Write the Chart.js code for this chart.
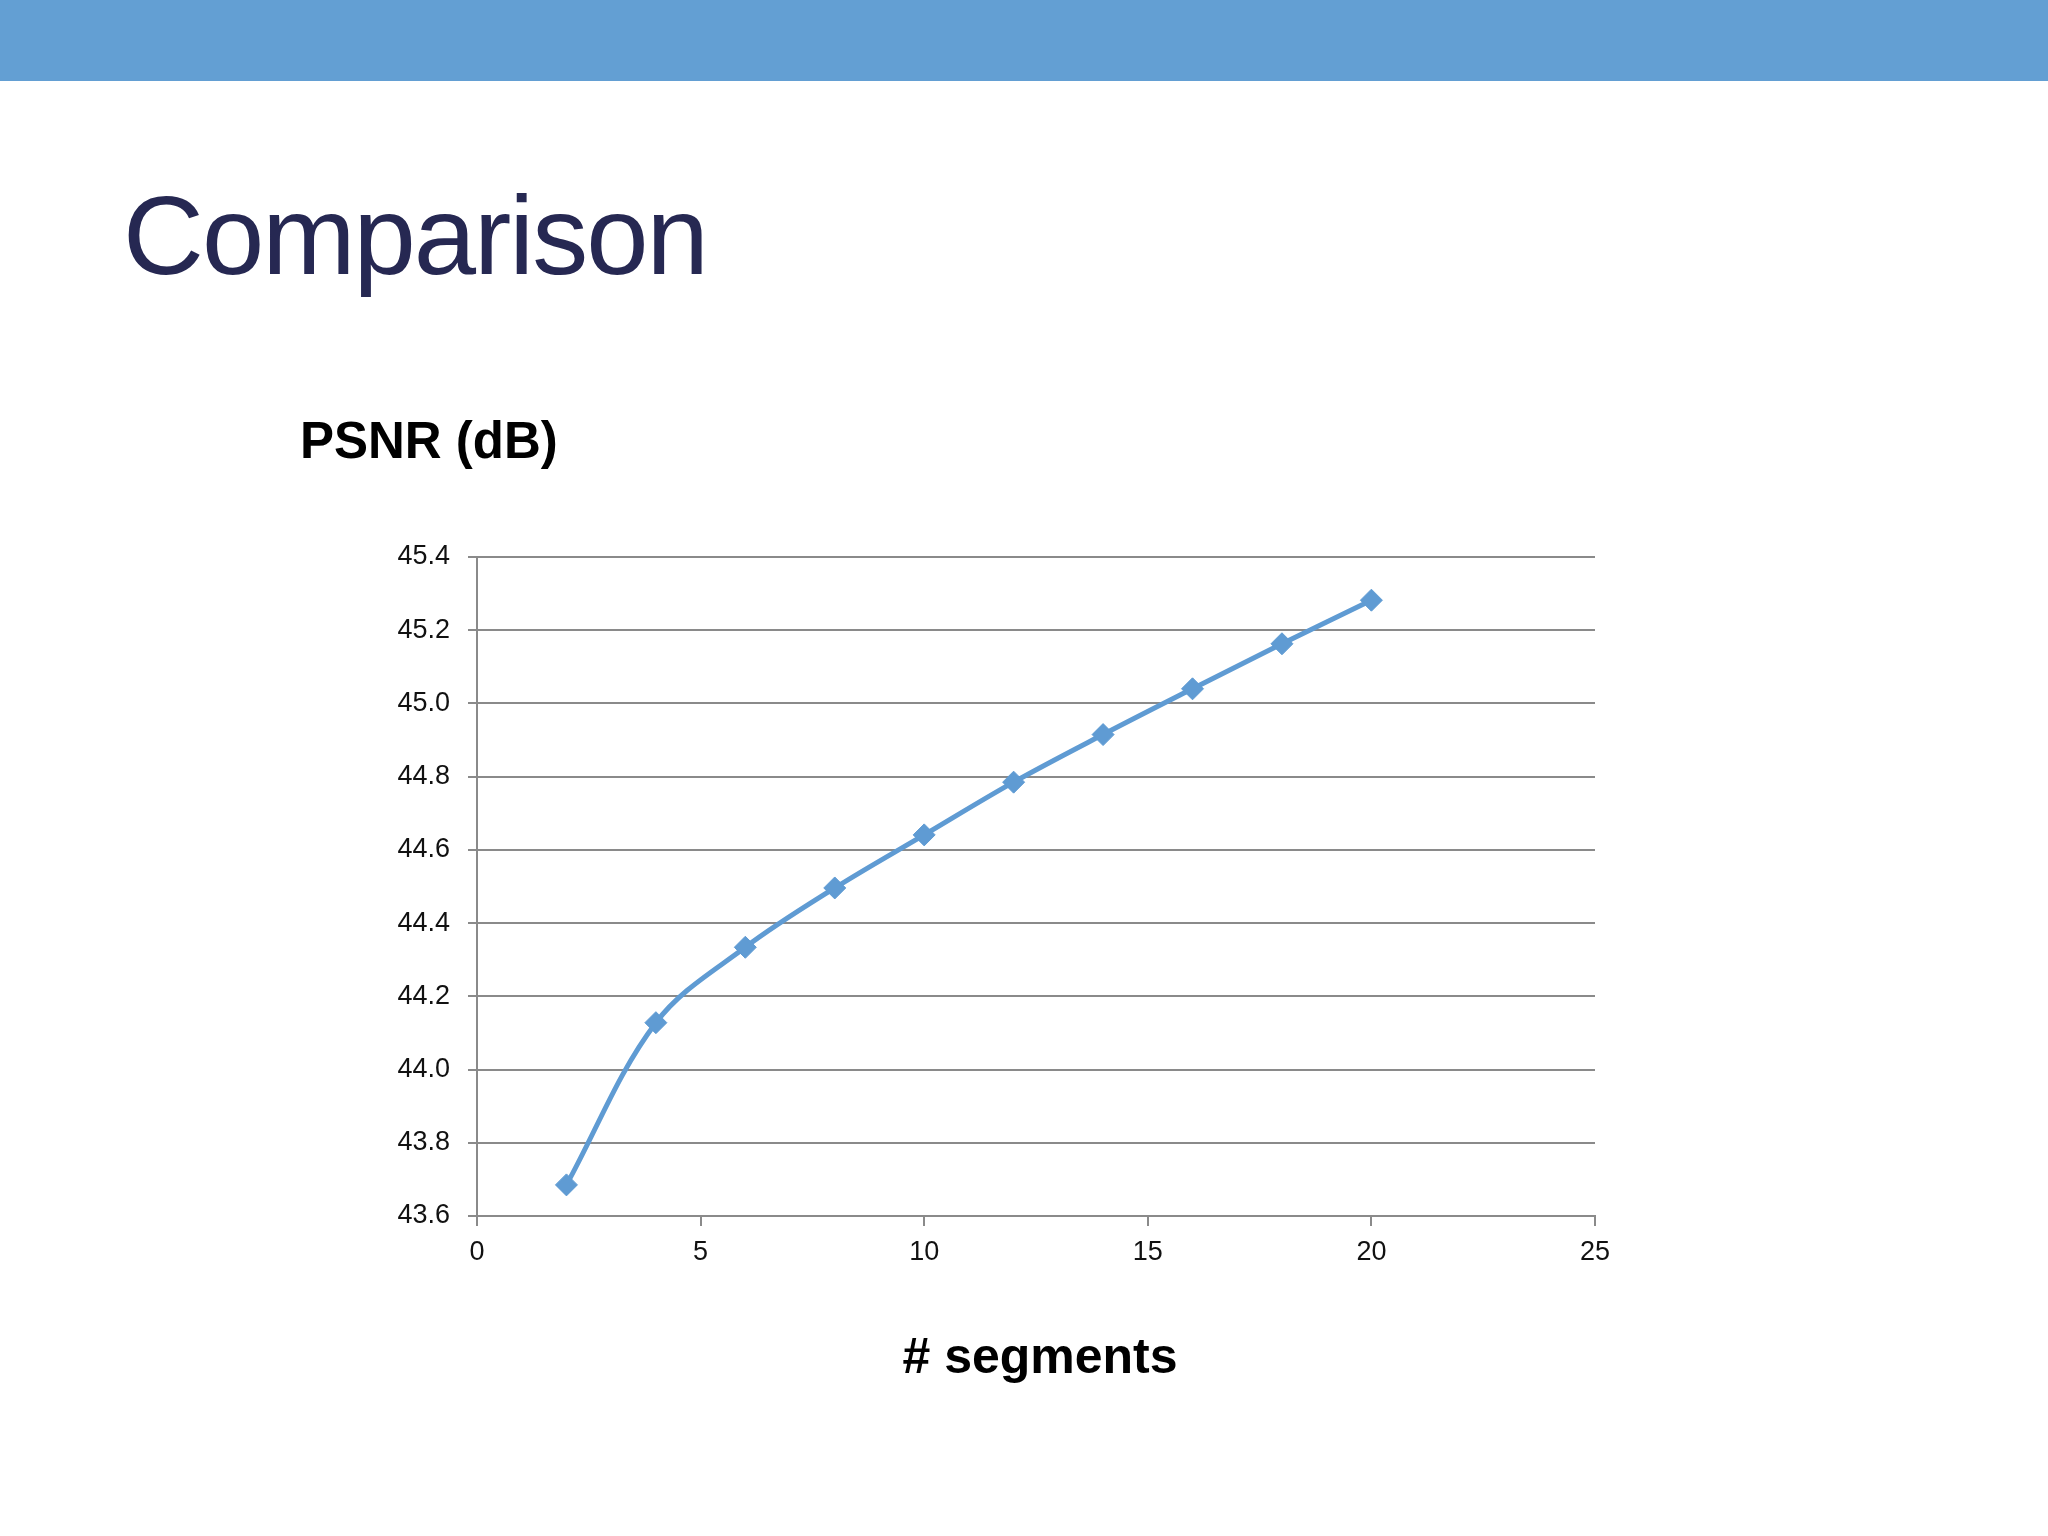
<!DOCTYPE html>
<html>
<head>
<meta charset="utf-8">
<script src="https://cdn.jsdelivr.net/npm/chart.js@4/dist/chart.umd.min.js"></script>
<style>
    body { margin: 0; width: 2048px; height: 1536px; background: #fff; position: relative; overflow: hidden; font-family: "Liberation Sans", Arial, sans-serif; }
    .topbar { position: absolute; left: 0; top: 0; width: 2048px; height: 81px; background: #639fd3; }
    .slide-title { position: absolute; left: 123px; top: 180px; margin: 0; font-size: 112px; font-weight: normal; letter-spacing: -2px; color: #262852; line-height: 1; }
    .y-title { position: absolute; left: 300px; top: 415px; font-size: 51px; font-weight: bold; color: #000; line-height: 1; }
    .x-title { position: absolute; left: 0; width: 2080px; text-align: center; top: 1331px; font-size: 50px; font-weight: bold; color: #000; line-height: 1; }
    .chart-box { position: absolute; left: 0; top: 500px; width: 2048px; height: 800px; }
</style>
</head>
<body>
<div class="topbar"></div>
<h1 class="slide-title">Comparison</h1>
<div class="y-title">PSNR (dB)</div>
<div class="x-title"># segments</div>
<div class="chart-box"><canvas id="psnr-chart"></canvas></div>

<script>
// PSNR vs number of segments
const segments = [2, 4, 6, 8, 10, 12, 14, 16, 18, 20];
const psnrValues = [43.685, 44.128, 44.334, 44.496, 44.641, 44.785, 44.915, 45.04, 45.163, 45.282];

const xTicks = [0, 5, 10, 15, 20, 25];
const yTicks = [43.6, 43.8, 44.0, 44.2, 44.4, 44.6, 44.8, 45.0, 45.2, 45.4];

const lineColor = '#5f9bd3';
const gridColor = '#8a8a8a';

const ctx = document.getElementById('psnr-chart').getContext('2d');

new Chart(ctx, {
    type: 'line',
    data: {
        datasets: [{
            label: 'PSNR (dB)',
            data: segments.map((s, i) => ({ x: s, y: psnrValues[i] })),
            borderColor: lineColor,
            backgroundColor: lineColor,
            borderWidth: 5,
            tension: 0.35,
            pointStyle: 'rectRot',
            pointRadius: 11,
            pointBackgroundColor: lineColor,
            pointBorderColor: lineColor,
            pointBorderWidth: 1
        }]
    },
    options: {
        responsive: true,
        maintainAspectRatio: false,
        animation: false,
        layout: {
            padding: { left: 0, right: 453, top: 57, bottom: 0 }
        },
        plugins: {
            legend: { display: false },
            tooltip: { enabled: false }
        },
        scales: {
            x: {
                type: 'linear',
                min: xTicks[0],
                max: xTicks[xTicks.length - 1],
                afterBuildTicks: (scale) => { scale.ticks = xTicks.map(v => ({ value: v })); },
                afterFit: (scale) => { scale.height = 84; },
                grid: {
                    drawOnChartArea: false,
                    drawTicks: true,
                    tickLength: 10,
                    color: gridColor,
                    lineWidth: 2
                },
                border: { color: gridColor, width: 2 },
                ticks: {
                    color: '#111',
                    padding: 10,
                    font: { family: 'Liberation Sans', size: 27 }
                }
            },
            y: {
                min: yTicks[0],
                max: yTicks[yTicks.length - 1],
                afterBuildTicks: (scale) => { scale.ticks = yTicks.map(v => ({ value: v })); },
                afterFit: (scale) => { scale.width = 477; },
                grid: {
                    color: gridColor,
                    lineWidth: 2,
                    tickLength: 9
                },
                border: { color: gridColor, width: 2 },
                ticks: {
                    color: '#111',
                    padding: 18,
                    font: { family: 'Liberation Sans', size: 27 },
                    callback: (v) => Number(v).toFixed(1)
                }
            }
        }
    }
});
</script>
</body>
</html>
